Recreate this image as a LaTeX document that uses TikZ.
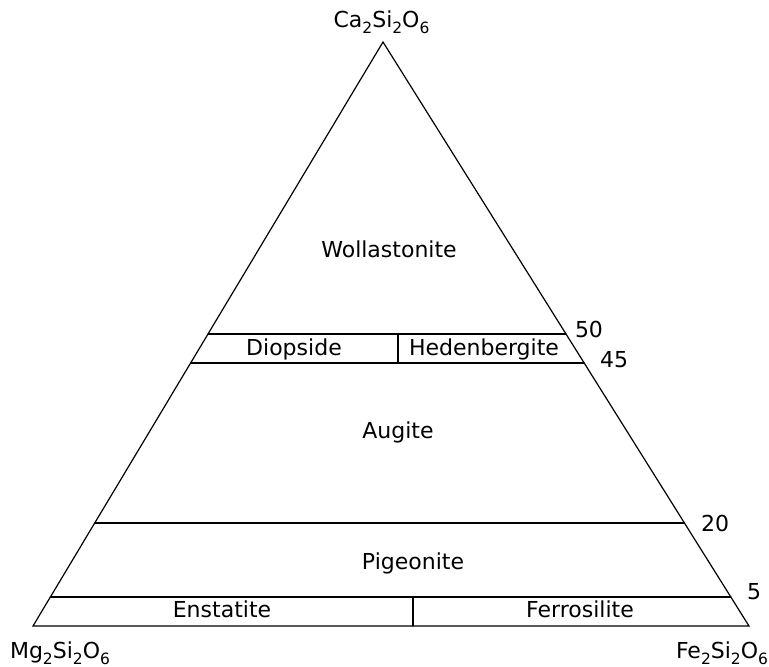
\documentclass[tikz,border=0pt]{standalone}
\usepackage{fontspec}
\setmainfont{DejaVu Sans}
\usetikzlibrary{calc}
\newcommand\sbx[1]{\raisebox{-0.28em}{\fontsize{15.5}{15.5}\selectfont #1}}
\begin{document}
\begin{tikzpicture}[x=1pt,y=-1pt,
  edge/.style={line width=1.2pt,line cap=round,line join=miter},
  lbl/.style={anchor=base,inner sep=0pt,font=\fontsize{22}{26}\selectfont}]
\useasboundingbox (0,0) rectangle (769,667);
\coordinate (A) at (383,42);
\coordinate (B) at (33,626);
\coordinate (C) at (749,626);
% level lines
\coordinate (L50) at ($(B)!0.5!(A)$);   \coordinate (R50) at ($(C)!0.5!(A)$);
\coordinate (L45) at ($(B)!0.4503!(A)$); \coordinate (R45) at ($(C)!0.4503!(A)$);
\coordinate (L20) at ($(B)!0.1764!(A)$); \coordinate (R20) at ($(C)!0.1764!(A)$);
\coordinate (L5) at ($(B)!0.0497!(A)$);  \coordinate (R5) at ($(C)!0.0497!(A)$);
\coordinate (D1) at (398,334); \coordinate (D2) at (398,363);
\coordinate (E1) at (413,597); \coordinate (E2) at (413,626);
\draw[edge] (A) -- (B) -- (C) -- cycle;
\draw[edge] (L50) -- (R50);
\draw[edge] (L45) -- (R45);
\draw[edge] (L20) -- (R20);
\draw[edge] (L5) -- (R5);
\draw[edge] (D1) -- (D2);
\draw[edge] (E1) -- (E2);
% vertex labels
\node[lbl] (ca) at (381.5,27) {Ca\sbx{2}Si\sbx{2}O\sbx{6}};
\node[lbl] (mg) at (60,658) {Mg\sbx{2}Si\sbx{2}O\sbx{6}};
\node[lbl] (fe) at (722,658) {Fe\sbx{2}Si\sbx{2}O\sbx{6}};
% region labels
\node[lbl] (wo) at (389,257) {Wollastonite};
\node[lbl] (di) at (294,355) {Diopside};
\node[lbl] (he) at (484,355) {Hedenbergite};
\node[lbl] (au) at (398,438) {Augite};
\node[lbl] (pi) at (413,569) {Pigeonite};
\node[lbl] (en) at (222,617) {Enstatite};
\node[lbl] (fs) at (580,617) {Ferrosilite};
% scale numbers
\node[lbl] (n50) at (589,337) {50};
\node[lbl] (n45) at (614,367) {45};
\node[lbl] (n20) at (715,531) {20};
\node[lbl] (n5) at (754,599) {5};
\end{tikzpicture}
\end{document}
